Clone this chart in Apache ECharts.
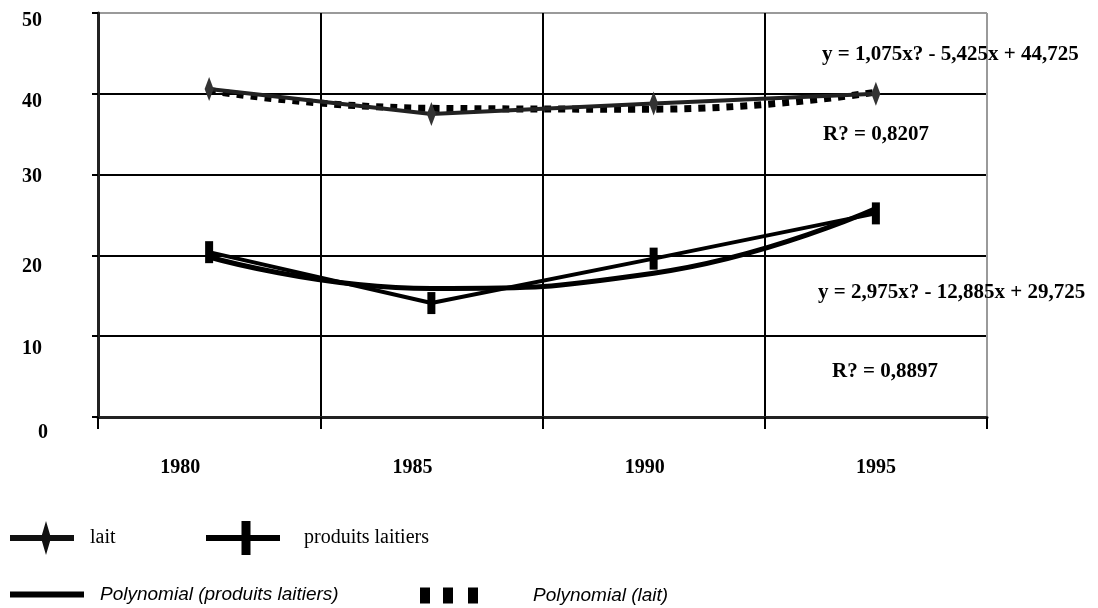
<!DOCTYPE html>
<html>
<head>
<meta charset="utf-8">
<script src="https://cdn.jsdelivr.net/npm/echarts@6/dist/echarts.min.js"></script>
<style>
html,body{margin:0;padding:0;background:#fff;}
#chart{width:1098px;height:608px;}
</style>
</head>
<body>
<div id="chart"></div>
<script>
// ---- data ----
const categories = ['1980', '1985', '1990', '1995'];
const lait = [40.6, 37.5, 38.8, 40.0];
const produitsLaitiers = [20.4, 14.1, 19.6, 25.2];
const polyProduits = [19.8, 15.9, 17.8, 25.8];
const polyLait = [40.4, 38.2, 38.1, 40.2];
const yTickValues = [0, 10, 20, 30, 40, 50];
const seriesNames = ['lait', 'produits laitiers', 'Polynomial (produits laitiers)', 'Polynomial (lait)'];
const annotations = [
  'y = 1,075x? - 5,425x + 44,725',
  'R? = 0,8207',
  'y = 2,975x? - 12,885x + 29,725',
  'R? = 0,8897'
];

// ---- styles ----
const SERIF = '"Liberation Serif", "Times New Roman", serif';
const SANS = '"Liberation Sans", Arial, sans-serif';
const xLabelPad = [[0, 58, 0, 0], [0, 38, 0, 0], [0, 18, 0, 0], [0, 0, 0, 0]];
const yLabelPad = [[32, 0, 0, 0], [26, 6, 0, 0], [22, 6, 0, 0], [4, 6, 0, 0], [16, 6, 0, 0], [16, 6, 0, 0]];
const labelFont = {fontFamily: SERIF, fontWeight: 'bold', fontSize: 20, color: '#000'};

const xRich = {};
xLabelPad.forEach((p, i) => { xRich['s' + i] = Object.assign({padding: p}, labelFont); });
const yRich = {};
yLabelPad.forEach((p, i) => { yRich['s' + i] = Object.assign({padding: p}, labelFont); });

const chart = echarts.init(document.getElementById('chart'), null, {renderer: 'canvas'});

const annStyle = {font: 'bold 21px ' + SERIF, fill: '#000', verticalAlign: 'middle', align: 'left'};
const annPos = [[822, 55], [823, 135], [818, 293], [832, 372]];

const option = {
  backgroundColor: '#fff',
  animation: false,
  grid: {left: 98, right: 111, top: 13, bottom: 191, containLabel: false},
  xAxis: {
    type: 'category',
    data: categories,
    boundaryGap: true,
    axisLine: {show: true, lineStyle: {color: '#222', width: 3}},
    axisTick: {show: true, inside: false, length: 12, lineStyle: {color: '#000', width: 2}},
    splitLine: {show: true, lineStyle: {color: ['#000', '#000', '#000', '#000', '#9a9a9a'], width: 2}},
    axisLabel: {
      margin: 41,
      formatter: (v, i) => '{s' + i + '|' + v + '}',
      rich: xRich
    }
  },
  yAxis: {
    type: 'value',
    min: yTickValues[0],
    max: yTickValues[yTickValues.length - 1],
    interval: yTickValues[1] - yTickValues[0],
    axisLine: {show: true, lineStyle: {color: '#222', width: 3}},
    axisTick: {show: true, inside: false, length: 6, lineStyle: {color: '#000', width: 2}},
    splitLine: {show: true, lineStyle: {color: ['#222', '#000', '#000', '#000', '#000', '#9a9a9a'], width: 2}},
    axisLabel: {
      margin: 50,
      formatter: (v) => {
        const i = yTickValues.indexOf(v);
        return '{s' + i + '|' + v + '}';
      },
      rich: yRich
    }
  },
  legend: [
    {
      data: [{name: seriesNames[0], icon: 'path://M0 14H64V20H0Z M31 17L36 0L41 17L36 34Z'}],
      left: 10, top: 521, padding: 0, itemWidth: 64, itemHeight: 34, symbolKeepAspect: false,
      itemStyle: {borderWidth: 0, color: '#111'},
      textStyle: {fontFamily: SERIF, fontSize: 20, color: '#000', padding: [0, 0, 0, 11]},
      selectedMode: false
    },
    {
      data: [{name: seriesNames[1], icon: 'path://M0 14H74V20H0Z M35.5 0H44.5V34H35.5Z'}],
      left: 206, top: 521, padding: 0, itemWidth: 74, itemHeight: 34, symbolKeepAspect: false,
      itemStyle: {borderWidth: 0, color: '#000'},
      textStyle: {fontFamily: SERIF, fontSize: 20, color: '#000', padding: [0, 0, 0, 19]},
      selectedMode: false
    },
    {
      data: [{name: seriesNames[2], icon: 'path://M0 0H74V6H0Z'}],
      left: 10, top: 585, padding: 0, itemWidth: 74, itemHeight: 6, symbolKeepAspect: false,
      itemStyle: {borderWidth: 0, color: '#000'},
      textStyle: {fontFamily: SANS, fontStyle: 'italic', fontSize: 19, color: '#000', padding: [0, 0, 0, 11]},
      selectedMode: false
    },
    {
      data: [{name: seriesNames[3], icon: 'path://M0 0H10V16H0Z M23 0H33V16H23Z M48 0H58V16H48Z'}],
      left: 420, top: 586, padding: 0, itemWidth: 58, itemHeight: 16, symbolKeepAspect: false,
      itemStyle: {borderWidth: 0, color: '#000'},
      textStyle: {fontFamily: SANS, fontStyle: 'italic', fontSize: 19, color: '#000', padding: [0, 0, 0, 50]},
      selectedMode: false
    }
  ],
  series: [
    {
      name: seriesNames[2], type: 'line', data: polyProduits, smooth: true,
      symbol: 'none', z: 2,
      lineStyle: {color: '#000', width: 5},
      itemStyle: {color: '#000'}
    },
    {
      name: seriesNames[3], type: 'line', data: polyLait, smooth: true,
      symbol: 'none', z: 2,
      lineStyle: {color: '#000', width: 7, type: [7, 7], cap: 'butt'},
      itemStyle: {color: '#000'}
    },
    {
      name: seriesNames[0], type: 'line', data: lait,
      symbol: 'diamond', symbolSize: [9, 24], z: 3,
      lineStyle: {color: '#222', width: 4},
      itemStyle: {color: '#333', borderWidth: 0}
    },
    {
      name: seriesNames[1], type: 'line', data: produitsLaitiers,
      symbol: 'rect', symbolSize: [8, 22], z: 3,
      lineStyle: {color: '#000', width: 4},
      itemStyle: {color: '#000', borderWidth: 0}
    }
  ],
  graphic: annotations.map((t, i) => ({
    type: 'text', x: annPos[i][0], y: annPos[i][1], z: 10,
    style: Object.assign({text: t}, annStyle)
  }))
};
chart.setOption(option);
</script>
</body>
</html>
